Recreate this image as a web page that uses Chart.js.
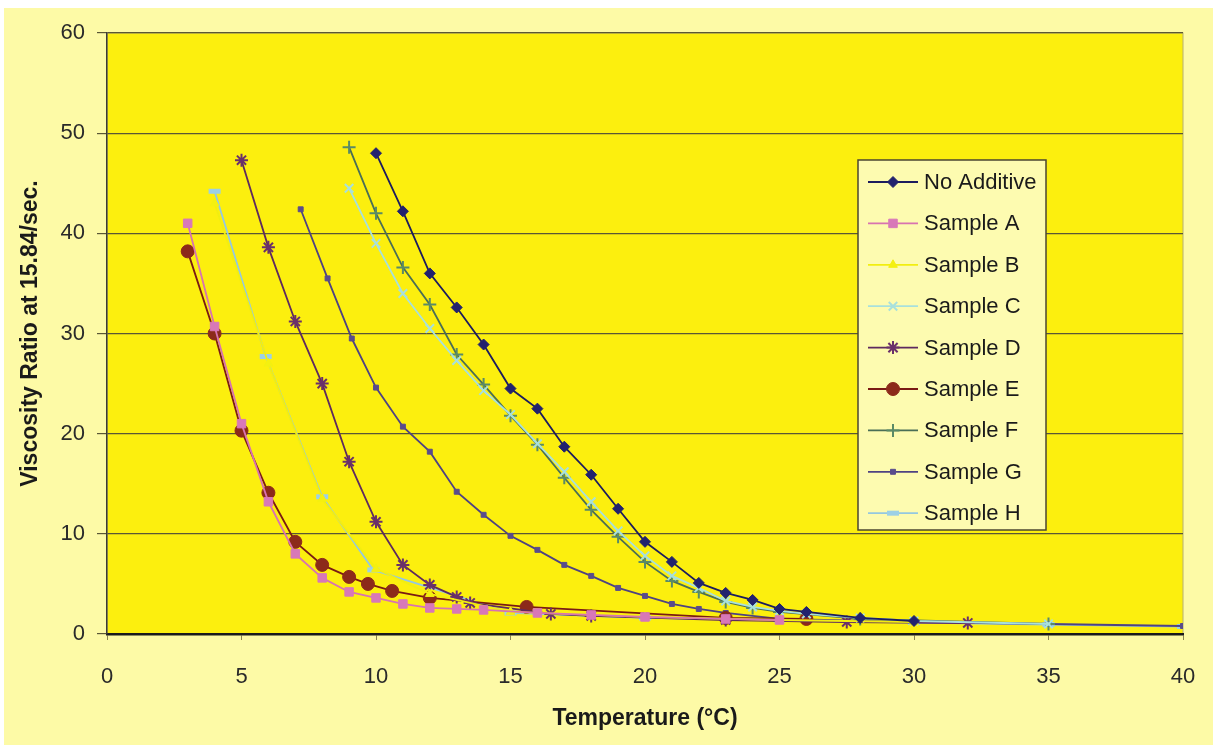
<!DOCTYPE html>
<html>
<head>
<meta charset="utf-8">
<title>Viscosity Ratio vs Temperature</title>
<script src="https://cdn.jsdelivr.net/npm/chart.js@4.4.1/dist/chart.umd.min.js"></script>
<style>
    body { margin: 0; background: #ffffff; }
    #chart { display: block; }
</style>
</head>
<body>
<canvas id="chart" width="1213" height="745"></canvas>
<script>
// Values (temperature in °C, viscosity ratio)
const noAdditiveT = [10, 11, 12, 13, 14, 15, 16, 17, 18, 19, 20, 21, 22, 23, 24, 25, 26, 28, 30];
const noAdditiveV = [48, 42.2, 36, 32.6, 28.9, 24.5, 22.5, 18.7, 15.9, 12.5, 9.2, 7.2, 5.1, 4.1, 3.4, 2.5, 2.2, 1.6, 1.3];

const sampleAT = [3, 4, 5, 6, 7, 8, 9, 10, 11, 12, 13, 14, 16, 18, 20, 23, 25];
const sampleAV = [41, 30.7, 21, 13.2, 8, 5.6, 4.2, 3.6, 3.0, 2.6, 2.5, 2.4, 2.1, 1.9, 1.7, 1.5, 1.4];

const sampleBT = [4, 6, 8, 10, 12, 15, 20, 25, 30];
const sampleBV = [43, 27, 13.5, 6.5, 4, 2.2, 1.7, 1.4, 1.2];

const sampleCT = [9, 10, 11, 12, 13, 14, 15, 16, 17, 18, 19, 20, 21, 22, 23, 24, 25, 26, 28, 30, 35];
const sampleCV = [44.5, 39, 34, 30.5, 27.3, 24.3, 21.9, 19, 16.2, 13.2, 10.3, 7.8, 5.8, 4.6, 3.3, 2.7, 2.3, 2.0, 1.6, 1.3, 1.0];

const sampleDT = [5, 6, 7, 8, 9, 10, 11, 12, 13, 13.5, 16.5, 18, 23, 27.5, 32];
const sampleDV = [47.3, 38.6, 31.2, 25, 17.2, 11.2, 6.9, 4.9, 3.7, 3.1, 2.0, 1.8, 1.4, 1.2, 1.1];

const sampleET = [3, 4, 5, 6, 7, 8, 9, 9.7, 10.6, 12, 15.6, 23, 26];
const sampleEV = [38.2, 30, 20.3, 14.1, 9.2, 6.9, 5.7, 5.0, 4.3, 3.6, 2.7, 1.6, 1.5];

const sampleFT = [9, 10, 11, 12, 13, 14, 15, 16, 17, 18, 19, 20, 21, 22, 23, 24, 25, 28, 35];
const sampleFV = [48.6, 42, 36.6, 32.9, 27.9, 24.9, 21.8, 18.9, 15.6, 12.4, 9.7, 7.2, 5.3, 4.2, 3.2, 2.6, 2.2, 1.5, 1.0];

const sampleGT = [7.2, 8.2, 9.1, 10, 11, 12, 13, 14, 15, 16, 17, 18, 19, 20, 21, 22, 23, 25, 30, 35, 40];
const sampleGV = [42.4, 35.5, 29.5, 24.6, 20.7, 18.2, 14.2, 11.9, 9.8, 8.4, 6.9, 5.8, 4.6, 3.8, 3.0, 2.5, 2.1, 1.5, 1.2, 1.0, 0.8];

const sampleHT = [4, 5.9, 8, 9.9, 15, 20, 25, 30, 35, 40];
const sampleHV = [44.2, 27.7, 13.7, 6.4, 2.1, 1.6, 1.4, 1.15, 0.95, 0.75];

const xTicks = [0, 5, 10, 15, 20, 25, 30, 35, 40];
const yTicks = [0, 10, 20, 30, 40, 50, 60];

const fontFamily = '"Liberation Sans", Arial, sans-serif';

// pair up temperature and value arrays into scatter points
function toPoints(temps, values) {
    return temps.map((t, i) => ({ x: t, y: values[i] }));
}

// helper to build one series with its line colour and marker
function makeSeries(label, temps, values, color, marker, radius, markerColor, markerBorder) {
    return {
        label: label,
        data: toPoints(temps, values),
        showLine: true,
        borderColor: color,
        borderWidth: 1.8,
        pointStyle: marker,
        pointRadius: radius,
        pointHoverRadius: radius,
        pointBackgroundColor: markerColor || color,
        pointBorderColor: markerColor || color,
        pointBorderWidth: markerBorder || 1,
        tension: 0
    };
}

const datasets = [
    makeSeries('No Additive', noAdditiveT, noAdditiveV, '#1c1c5e', 'rectRot', 5.5, '#22226e'),
    makeSeries('Sample A', sampleAT, sampleAV, '#d873b0', 'rect', 6, '#d878b8'),
    makeSeries('Sample B', sampleBT, sampleBV, '#f2ee10', 'triangle', 5, '#f4f010'),
    makeSeries('Sample C', sampleCT, sampleCV, '#a8e0dc', 'crossRot', 6, '#a8e0dc', 2),
    makeSeries('Sample D', sampleDT, sampleDV, '#5e2a5e', 'star', 6.5, '#6a306a', 2),
    makeSeries('Sample E', sampleET, sampleEV, '#7a1a14', 'circle', 6.5, '#8c2a1a'),
    makeSeries('Sample F', sampleFT, sampleFV, '#4a6e56', 'cross', 6.5, '#5a8a66', 2),
    makeSeries('Sample G', sampleGT, sampleGV, '#4e4282', 'rect', 3.5, '#5a4c8c'),
    makeSeries('Sample H', sampleHT, sampleHV, '#94c8e0', 'line', 6, '#9cd0e6', 5)
];

// page and plot area colours
const backgroundPlugin = {
    id: 'background',
    beforeDraw(chart) {
        const ctx = chart.ctx;
        const area = chart.chartArea;
        ctx.save();
        ctx.fillStyle = '#ffffff';
        ctx.fillRect(0, 0, chart.width, chart.height);
        ctx.fillStyle = '#fdfaa6';
        ctx.fillRect(4, 8, chart.width - 4, chart.height - 8);
        ctx.fillStyle = '#fcef0e';
        ctx.fillRect(area.left, area.top, area.right - area.left, area.bottom - area.top);
        ctx.strokeStyle = '#b8b070';
        ctx.lineWidth = 1;
        ctx.strokeRect(area.left, area.top, area.right - area.left, area.bottom - area.top);
        ctx.restore();
    }
};

// legend box drawn inside the plot, like the original
const insideLegendPlugin = {
    id: 'insideLegend',
    afterDraw(chart) {
        const ctx = chart.ctx;
        const boxLeft = 858, boxTop = 160, boxWidth = 188, boxHeight = 370;
        const rowGap = 41.4;
        ctx.save();
        ctx.fillStyle = '#fdfbb0';
        ctx.fillRect(boxLeft, boxTop, boxWidth, boxHeight);
        ctx.strokeStyle = '#4a4630';
        ctx.lineWidth = 1.5;
        ctx.strokeRect(boxLeft, boxTop, boxWidth, boxHeight);

        ctx.font = '22px ' + fontFamily;
        ctx.textBaseline = 'middle';
        chart.data.datasets.forEach((ds, i) => {
            const y = boxTop + 22 + i * rowGap;
            ctx.strokeStyle = ds.borderColor;
            ctx.lineWidth = ds.borderWidth;
            ctx.beginPath();
            ctx.moveTo(868, y);
            ctx.lineTo(918, y);
            ctx.stroke();

            ctx.fillStyle = ds.pointBackgroundColor;
            ctx.strokeStyle = ds.pointBorderColor;
            ctx.lineWidth = ds.pointBorderWidth;
            Chart.helpers.drawPoint(ctx, {
                pointStyle: ds.pointStyle,
                radius: ds.pointRadius,
                rotation: 0,
                borderWidth: ds.pointBorderWidth
            }, 893, y);

            ctx.fillStyle = '#1a1a1a';
            ctx.fillText(ds.label, 924, y + 1);
        });
        ctx.restore();
    }
};

const ctx = document.getElementById('chart').getContext('2d');
new Chart(ctx, {
    type: 'scatter',
    data: { datasets: datasets },
    options: {
        responsive: false,
        animation: false,
        layout: { padding: { top: 33, right: 30, left: 0, bottom: 0 } },
        plugins: {
            legend: { display: false },
            tooltip: { enabled: false }
        },
        scales: {
            x: {
                type: 'linear',
                min: 0,
                max: 40,
                // tick padding would otherwise widen the side margins too
                afterFit(scale) {
                    scale.height = 111;
                    scale.paddingLeft = 0;
                    scale.paddingRight = 0;
                },
                afterBuildTicks(scale) { scale.ticks = xTicks.map(v => ({ value: v })); },
                grid: { drawOnChartArea: false, tickLength: 6, color: '#8a8450' },
                border: { color: '#1a1a1a', width: 2.5 },
                ticks: {
                    padding: 24,
                    color: '#2a2a2a',
                    font: { family: fontFamily, size: 22 }
                },
                title: {
                    display: true,
                    text: 'Temperature (°C)',
                    color: '#1a1a1a',
                    padding: { bottom: 13 },
                    font: { family: fontFamily, size: 23, weight: 'bold' }
                }
            },
            y: {
                type: 'linear',
                min: 0,
                max: 60,
                afterFit(scale) { scale.width = 107; },
                afterBuildTicks(scale) { scale.ticks = yTicks.map(v => ({ value: v })); },
                grid: { color: '#5a5636', lineWidth: 1.2, tickLength: 10 },
                border: { color: '#3a3a3a', width: 1.5 },
                ticks: {
                    padding: 12,
                    color: '#2a2a2a',
                    font: { family: fontFamily, size: 22 }
                },
                title: {
                    display: true,
                    text: 'Viscosity Ratio at 15.84/sec.',
                    color: '#1a1a1a',
                    padding: { top: 17 },
                    font: { family: fontFamily, size: 23, weight: 'bold' }
                }
            }
        }
    },
    plugins: [backgroundPlugin, insideLegendPlugin]
});
</script>
</body>
</html>
